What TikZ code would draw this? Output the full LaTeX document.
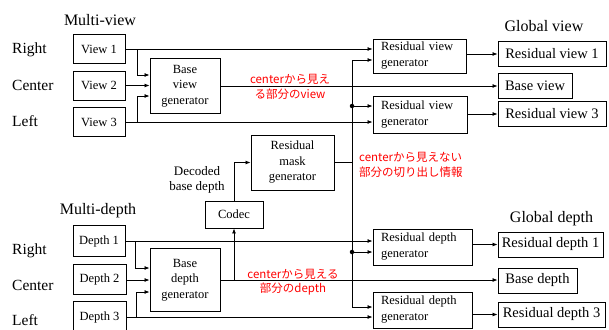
\documentclass[tikz,border=0pt]{standalone}
\usepackage{fontspec}
\setmainfont{Liberation Serif}
\newfontfamily\jpfont{Noto Sans CJK JP}
\usetikzlibrary{arrows.meta}
\begin{document}
\begin{tikzpicture}[x=1pt,y=-1pt,
  box/.style={draw,line width=0.9pt,inner sep=0pt,font=\fontsize{12.5}{15.5}\selectfont,align=center},
  genbox/.style={draw,line width=0.9pt,inner xsep=8pt,inner ysep=0pt,font=\fontsize{12.5}{16}\selectfont,align=left},
  outbox/.style={draw,line width=0.9pt,inner sep=0pt,minimum height=25pt,font=\fontsize{14.5}{17}\selectfont},
  lbl/.style={anchor=base west,inner sep=0pt,font=\fontsize{15.5}{18}\selectfont},
  ttl/.style={anchor=base,inner sep=0pt,font=\fontsize{16}{19}\selectfont},
  jp/.style={inner sep=0pt,text=red,font=\jpfont\fontsize{11.5}{14.5}\selectfont},
  arr/.style={-{Latex[length=5pt,width=4pt]},line width=0.8pt},
  ln/.style={line width=0.8pt},
  dot/.style={circle,fill,inner sep=0pt,minimum size=4.5pt}
]
\useasboundingbox (0,0) rectangle (609,329);

% ---------- view part ----------
\node[ttl] (mv) at (100,26) {Multi-view};
\node[lbl] (lr1) at (12,53) {Right};
\node[lbl] (lc1) at (12,90) {Center};
\node[lbl] (ll1) at (12,126) {Left};

\node[box,minimum width=52pt,minimum height=29pt] (v1) at (99,49) {View 1};
\node[box,minimum width=52pt,minimum height=29pt] (v2) at (99,85.5) {View 2};
\node[box,minimum width=52pt,minimum height=29pt] (v3) at (99,122) {View 3};

\node[box,minimum width=70pt,minimum height=55pt] (bvg) at (185,86) {Base\\view\\generator};

\node[genbox,text width=77pt,minimum height=34pt] (rvg1) at (419.5,56) {Residual view\\generator};
\node[genbox,text width=78pt,minimum height=37pt] (rvg2) at (420,114.5) {Residual view\\generator};

\node[ttl] (gv) at (544,31) {Global view};
\node[outbox,minimum width=108pt] (rv1) at (552,54) {Residual view 1};
\node[outbox,minimum width=74pt] (bv) at (535,85.5) {Base view};
\node[outbox,minimum width=108pt] (rv3) at (552,114) {Residual view 3};

\node[jp,align=center] (rtv) at (290,87) {centerから見え\\る部分のview};

% ---------- middle ----------
\node[box,minimum width=83pt,minimum height=55pt] (mask) at (292.5,162.5) {Residual\\mask\\generator};
\node[box,minimum width=58pt,minimum height=27pt] (codec) at (234,214.5) {Codec};
\node[inner sep=0pt,align=center,font=\fontsize{13}{15}\selectfont] (dbd) at (197,180) {Decoded\\base depth};
\node[jp,align=left,anchor=west] (rtm) at (359,165) {centerから見えない\\部分の切り出し情報};

% ---------- depth part ----------
\node[ttl] (md) at (98,214) {Multi-depth};
\node[lbl] (lr2) at (12,254) {Right};
\node[lbl] (lc2) at (12,290) {Center};
\node[lbl] (ll2) at (12,325) {Left};

\node[box,minimum width=52pt,minimum height=31pt] (d1) at (99,241) {Depth 1};
\node[box,minimum width=53pt,minimum height=30pt] (d2) at (99.5,279) {Depth 2};
\node[box,minimum width=53pt,minimum height=31pt] (d3) at (99.5,317) {Depth 3};

\node[box,minimum width=70pt,minimum height=63pt] (bdg) at (185,280) {Base\\depth\\generator};

\node[genbox,text width=83pt,minimum height=36pt] (rdg1) at (422.5,247) {Residual depth\\generator};
\node[genbox,text width=83pt,minimum height=36pt] (rdg3) at (422.5,310) {Residual depth\\generator};

\node[ttl] (gd) at (551.5,222) {Global depth};
\node[outbox,minimum width=105pt] (rd1) at (550.5,244.5) {Residual depth 1};
\node[outbox,minimum width=79pt] (bd) at (537.5,280.5) {Base depth};
\node[outbox,minimum width=107pt] (rd3) at (551.5,314.5) {Residual depth 3};

\node[jp,align=center] (rtd) at (293,282) {centerから見える\\部分のdepth};

% ---------- connectors: view ----------
\draw[arr] (v1.east) -- (v1.east -| rvg1.west);
\draw[arr] ([xshift=12pt]v1.east) |- ([yshift=11pt]bvg.west);
\draw[arr] (v2.east) -- (v2.east -| bvg.west);
\draw[arr] (v3.east) -- (v3.east -| rvg2.west);
\draw[arr] ([xshift=12pt]v3.east) |- ([yshift=-10pt]bvg.west);
\draw[arr] (bvg.east) -- (bvg.east -| bv.west);
\draw[arr] (rvg1.east |- rv1.west) -- (rv1.west);
\draw[arr] (rvg2.east |- rv3.west) -- (rv3.west);

% ---------- bus ----------
\coordinate (bustop) at (352,60);
\coordinate (busbot) at (352,307);
\draw[arr] (busbot) -- (bustop) -- (bustop -| rvg1.west);
\draw[arr] (busbot) -- (busbot -| rdg3.west);
\node[dot] (dv) at (352,106) {};
\draw[arr] (dv.center) -- (dv.center -| rvg2.west);
\node[dot] (dd) at (352,252) {};
\draw[arr] (dd.center) -- (dd.center -| rdg1.west);
\draw[ln] (mask.east) -- (mask.east -| bustop);

% ---------- connectors: depth ----------
\draw[arr] (d1.east) -- (d1.east -| rdg1.west);
\draw[arr] ([xshift=10pt]d1.east) |- ([yshift=12pt]bdg.west);
\draw[arr] (d2.east |- bdg.west) -- (bdg.west);
\draw[arr] (d3.east) -- (d3.east -| rdg3.west);
\draw[arr] ([xshift=9.5pt]d3.east) |- ([yshift=-12pt]bdg.west);
\draw[arr] (bdg.east) -- (bdg.east -| bd.west);
\draw[arr] (bdg.east -| codec.south) -- (codec.south);
\draw[arr] (codec.north) |- (mask.west);
\draw[arr] (rdg1.east |- rd1.west) -- (rd1.west);
\draw[arr] (rdg3.east |- rd3.west) -- (rd3.west);
\end{tikzpicture}
\end{document}
